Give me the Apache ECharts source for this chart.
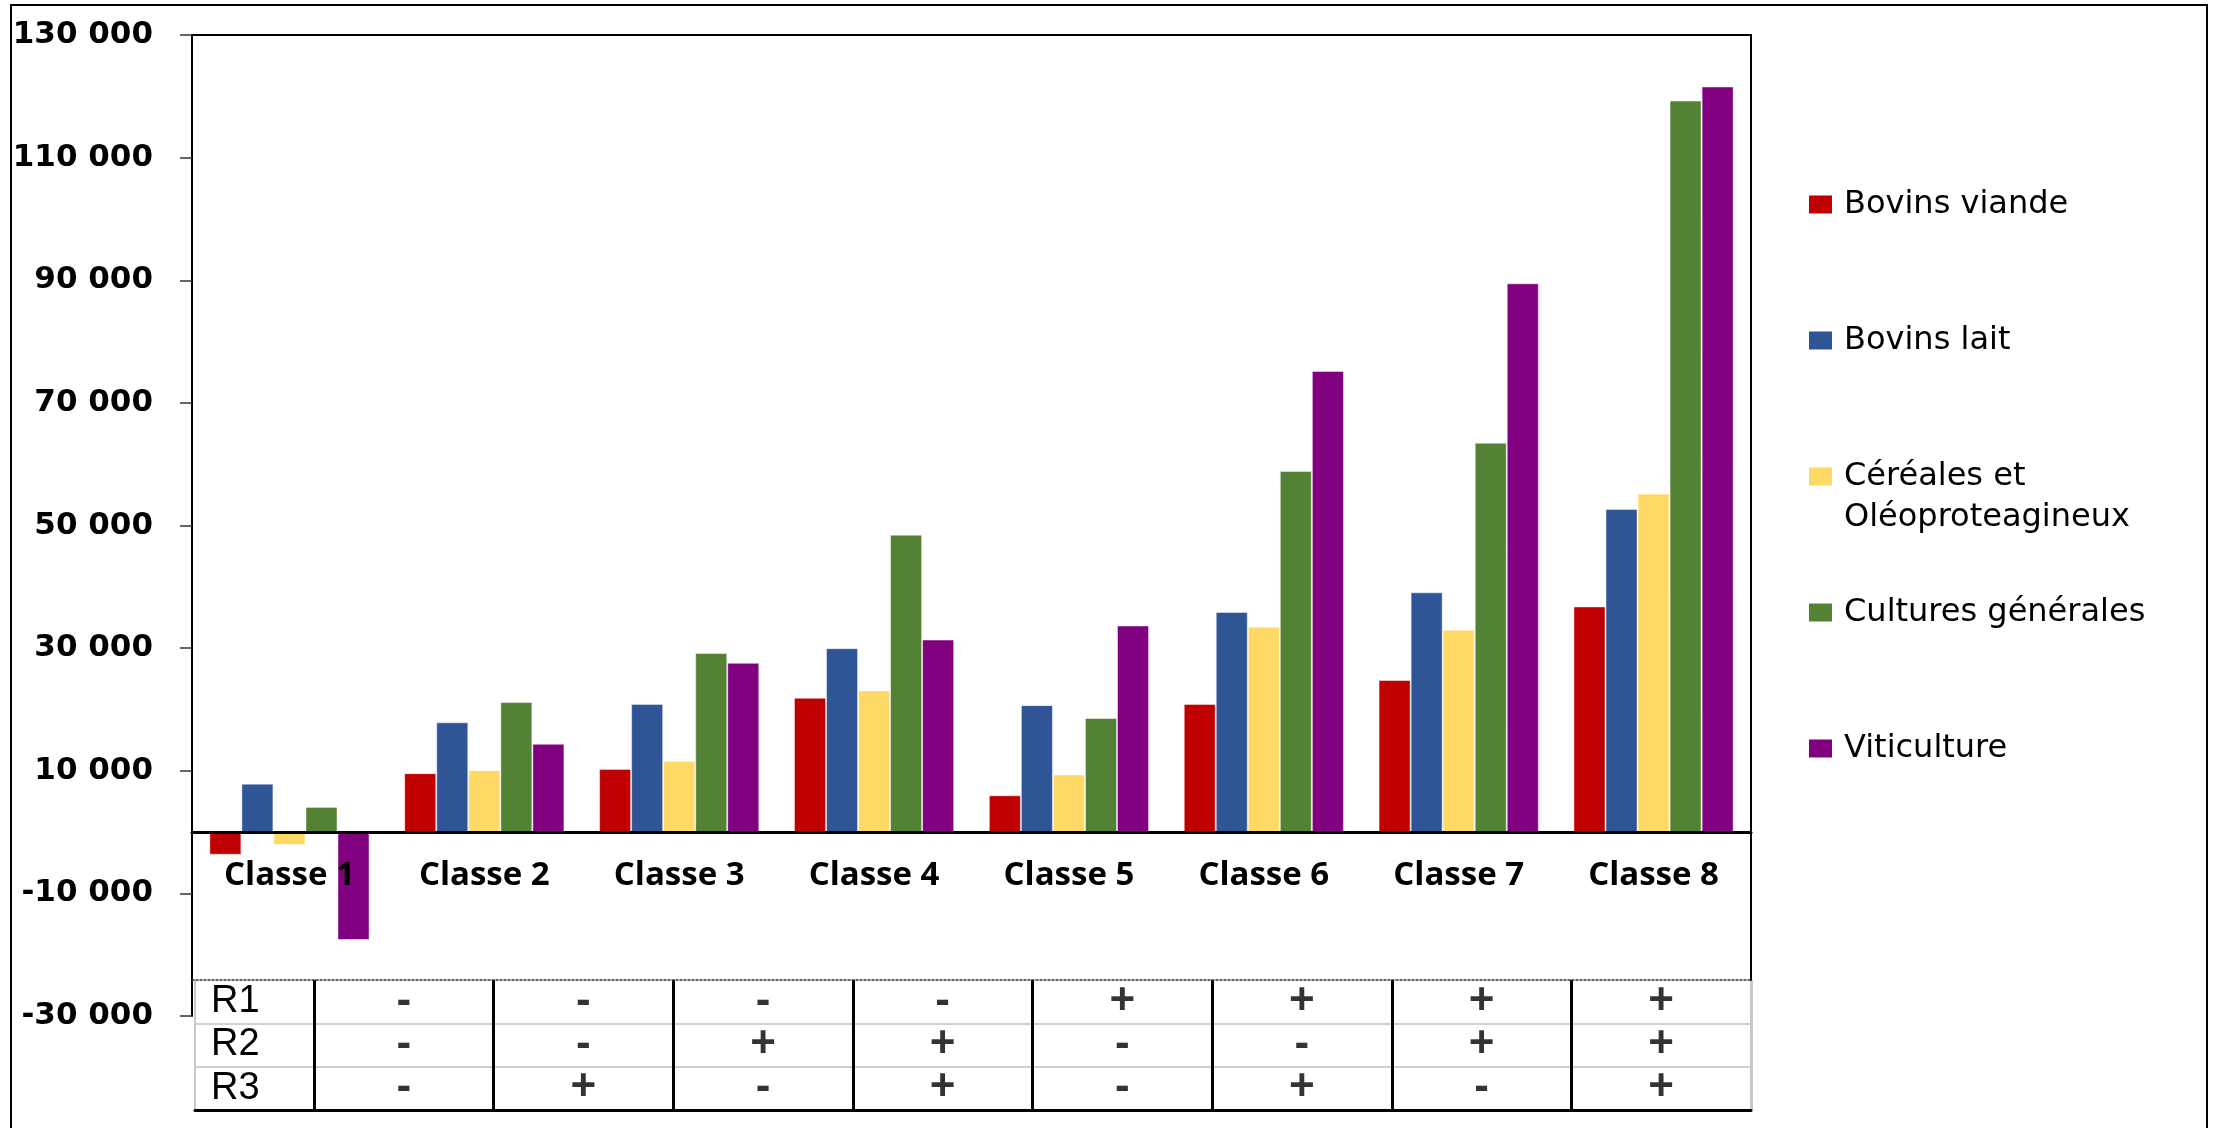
<!DOCTYPE html>
<html>
<head>
<meta charset="utf-8">
<script src="https://cdn.jsdelivr.net/npm/echarts@6/dist/echarts.min.js"></script>
<style>
  html, body { margin: 0; padding: 0; background: #fff; overflow: hidden; }
  #frame { position: absolute; left: 10px; top: 4px; width: 2194px; height: 1200px; border: 2px solid #000; }
  #chart { position: absolute; left: 0; top: 0; width: 2218px; height: 1128px; }
</style>
</head>
<body>
<div id="frame"></div>
<div id="chart"></div>
<script>
// classes and series
const categories = ['Classe 1', 'Classe 2', 'Classe 3', 'Classe 4', 'Classe 5', 'Classe 6', 'Classe 7', 'Classe 8'];
const seriesNames = ['Bovins viande', 'Bovins lait', 'Céréales et Oléoproteagineux', 'Cultures générales', 'Viticulture'];
const seriesColors = ['#C00000', '#2F5597', '#FFD966', '#548235', '#800080'];

const bovinsViande = [-3700, 9600, 10300, 21900, 6000, 20900, 24800, 36800];
const bovinsLait = [7900, 17900, 20900, 30000, 20700, 35900, 39100, 52700];
const cereales = [-2100, 10100, 11600, 23100, 9400, 33500, 33000, 55200];
const culturesGenerales = [4100, 21200, 29200, 48500, 18600, 58900, 63500, 119300];
const viticulture = [-17600, 14400, 27600, 31400, 33700, 75200, 89500, 121600];

// table under the chart
const rowLabels = ['R3', 'R2', 'R1'];
const r1Signs = ['-', '-', '-', '-', '+', '+', '+', '+'];
const r2Signs = ['-', '-', '+', '+', '-', '-', '+', '+'];
const r3Signs = ['-', '+', '-', '+', '-', '+', '-', '+'];

const seriesValues = [bovinsViande, bovinsLait, cereales, culturesGenerales, viticulture];

function fmt(v) {
  const s = Math.abs(v).toString().replace(/\B(?=(\d{3})+(?!\d))/g, ' ');
  return (v < 0 ? '-' : '') + s;
}

const signCells = [];
categories.forEach(function (c, i) {
  signCells.push([c, 'R1', r1Signs[i]]);
  signCells.push([c, 'R2', r2Signs[i]]);
  signCells.push([c, 'R3', r3Signs[i]]);
});

const noAxisBits = { axisTick: { show: false }, axisLabel: { show: false }, splitLine: { show: false } };
const clear = 'rgba(0,0,0,0)';

let myChart = echarts.init(document.getElementById('chart'));
myChart.setOption({
  animation: false,
  grid: [
    { left: 192, top: 35, right: 467, bottom: 112 },   // bars
    { left: 192, top: 35, right: 467, bottom: 148 },   // frame top/right
    { left: 195, top: 980, width: 119, height: 130 },  // R1..R3 column
    { left: 314, top: 980, width: 1437, height: 130 }, // signs
    { left: 192, top: 35, right: 467, bottom: 296 }    // class labels under zero
  ],
  legend: {
    orient: 'vertical',
    left: 1809,
    top: 143,
    padding: 0,
    itemGap: 13,
    itemWidth: 23,
    itemHeight: 18,
    icon: 'rect',
    itemStyle: { borderWidth: 0 },
    textStyle: {
      fontFamily: 'DejaVu Sans',
      fontSize: 32,
      color: '#000',
      lineHeight: 41,
      padding: [0, 0, 0, 7]
    },
    formatter: function (name) {
      const parts = name.split(' et ');
      return parts.length > 1 ? ' \n' + parts[0] + ' et\n' + parts[1] : ' \n' + name + '\n ';
    },
    data: seriesNames
  },
  xAxis: [
    {
      gridIndex: 0, type: 'category', data: categories, z: 3,
      axisLine: { onZero: true, lineStyle: { color: '#000', width: 3 } },
      axisTick: { show: false }, axisLabel: { show: false }, splitLine: { show: false }
    },
    Object.assign({
      gridIndex: 1, type: 'category', data: categories, position: 'top',
      axisLine: { onZero: false, lineStyle: { color: '#000', width: 2 } }
    }, noAxisBits),
    Object.assign({
      gridIndex: 1, type: 'category', data: categories, position: 'bottom',
      axisLine: { onZero: false, lineStyle: { color: '#333', width: 1.5, type: [2, 2] } }
    }, noAxisBits),
    {
      gridIndex: 2, type: 'category', data: ['label'],
      axisLine: { onZero: false, lineStyle: { color: '#000', width: 3 } },
      axisTick: { show: false }, axisLabel: { show: false },
      splitLine: { show: true, lineStyle: { color: ['#c8c8c8', clear], width: 2 } }
    },
    {
      gridIndex: 3, type: 'category', data: categories,
      axisLine: { onZero: false, lineStyle: { color: '#000', width: 3 } },
      axisTick: { show: false }, axisLabel: { show: false },
      splitLine: {
        show: true,
        lineStyle: { color: ['#000', '#000', '#000', '#000', '#000', '#000', '#000', '#000', '#c8c8c8'], width: 3 }
      }
    },
    {
      gridIndex: 4, type: 'category', data: categories, z: 4,
      axisLine: { show: false, onZero: false }, axisTick: { show: false }, splitLine: { show: false },
      axisLabel: { interval: 0, margin: 27, color: '#000', fontFamily: 'Open Sans', fontWeight: 'bold', fontSize: 33 }
    }
  ],
  yAxis: [
    {
      gridIndex: 0, type: 'value', min: -30000, max: 130000, interval: 20000,
      axisLine: { show: true, lineStyle: { color: '#000', width: 2 } },
      axisTick: { show: true, length: 12, lineStyle: { color: '#333', width: 1.5 } },
      axisLabel: { margin: 39, formatter: fmt, fontFamily: 'DejaVu Sans', fontWeight: 'bold', fontSize: 31, color: '#000' },
      splitLine: { show: false }
    },
    Object.assign({
      gridIndex: 1, type: 'value', min: 0, max: 1, position: 'right',
      axisLine: { show: true, onZero: false, lineStyle: { color: '#000', width: 2 } }
    }, noAxisBits),
    {
      gridIndex: 2, type: 'category', data: rowLabels,
      axisLine: { show: false }, axisTick: { show: false },
      axisLabel: { interval: 0, inside: true, margin: 16, fontFamily: 'Liberation Sans', fontSize: 38, color: '#000' },
      splitLine: { show: true, lineStyle: { color: [clear, '#d0d0d0', '#d0d0d0', clear], width: 2 } }
    },
    {
      gridIndex: 3, type: 'category', data: rowLabels,
      axisLine: { show: false }, axisTick: { show: false }, axisLabel: { show: false },
      splitLine: { show: true, lineStyle: { color: [clear, '#d0d0d0', '#d0d0d0', clear], width: 2 } }
    },
    Object.assign({
      gridIndex: 4, type: 'value', min: 0, max: 1, axisLine: { show: false }
    }, noAxisBits)
  ],
  series: seriesNames.map(function (name, i) {
    return {
      name: name,
      type: 'bar',
      xAxisIndex: 0,
      yAxisIndex: 0,
      data: seriesValues[i],
      barGap: '0%',
      barCategoryGap: '17.8%',
      itemStyle: { color: seriesColors[i], borderColor: 'rgba(255,255,255,0.45)', borderWidth: 1 },
      emphasis: { disabled: true }
    };
  }).concat([{
    type: 'scatter',
    xAxisIndex: 4,
    yAxisIndex: 3,
    data: signCells,
    symbolSize: 1,
    silent: true,
    itemStyle: { color: clear },
    label: {
      show: true,
      position: 'inside',
      formatter: function (p) { return p.value[2]; },
      fontFamily: 'Liberation Sans',
      fontWeight: 'bold',
      fontSize: 44,
      color: '#000'
    }
  }])
});

window.addEventListener('resize', function () {
  myChart.resize();
});
</script>
</body>
</html>
